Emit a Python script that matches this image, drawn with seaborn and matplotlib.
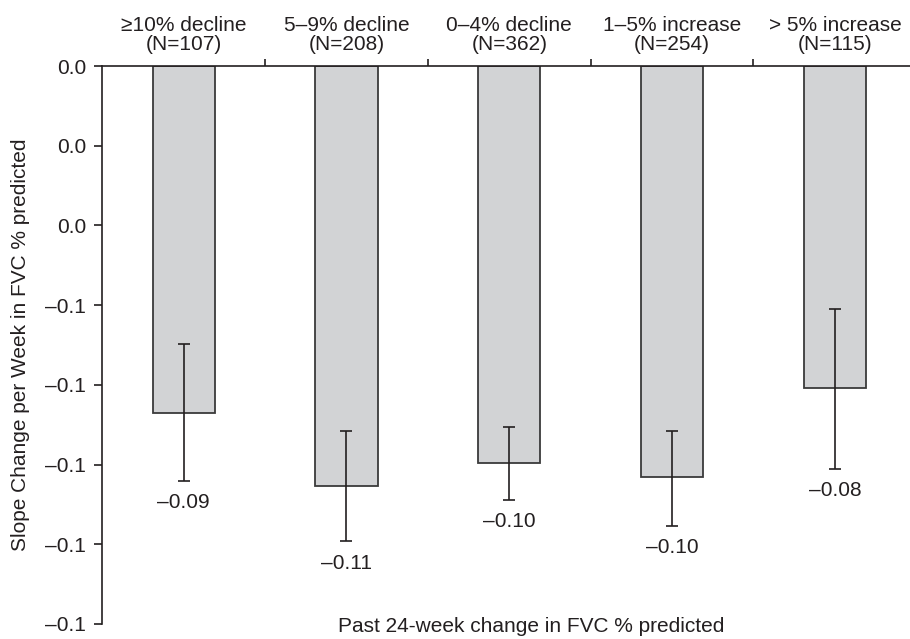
import numpy as np
import pandas as pd
import matplotlib
matplotlib.use('Agg')
import matplotlib.pyplot as plt
import seaborn as sns

# Data
groups = ['≥10% decline', '5–9% decline', '0–4% decline', '1–5% increase', '> 5% increase']
n_pts = [107, 208, 362, 254, 115]
slope = [-0.0871, -0.1053, -0.0997, -0.1030, -0.0809]
ci_low = [-0.1041, -0.1193, -0.1089, -0.1153, -0.1011]
ci_high = [-0.0698, -0.0917, -0.0907, -0.0917, -0.0610]
value_labels = ['–0.09', '–0.11', '–0.10', '–0.10', '–0.08']
ytick_vals = [0, -0.02, -0.04, -0.06, -0.08, -0.10, -0.12, -0.14]
ytick_labels = ['0.0', '0.0', '0.0', '–0.1', '–0.1', '–0.1', '–0.1', '–0.1']

sns.set_style('white')
plt.rcParams['font.family'] = ['Liberation Sans', 'DejaVu Sans']
ink = '#231f20'

df = pd.DataFrame({'group': [f'{g}\n(N={n})' for g, n in zip(groups, n_pts)],
                   'slope': slope})

fig = plt.figure(figsize=(9.1, 6.39), dpi=100)
ax = fig.add_axes([0.1124, 0.0235, 0.8945, 0.8732])

sns.barplot(data=df, x='group', y='slope', color='#d2d3d5', saturation=1,
            edgecolor='#3a3a3a', linewidth=1.3, width=0.383, errorbar=None, ax=ax)

x = np.arange(len(groups))
s = np.array(slope)
yerr = [s - np.array(ci_low), np.array(ci_high) - s]
ax.errorbar(x, s, yerr=yerr, fmt='none', ecolor=ink, elinewidth=1.2,
            capsize=4, capthick=1.2)

for xi, lo, lab in zip(x, ci_low, value_labels):
    ax.annotate(lab, (xi, lo), xytext=(0, -15.8), textcoords='offset points',
                ha='center', va='center', fontsize=15, color=ink)

ax.set_xlim(-0.5, len(groups) - 0.5)
ax.set_ylim(-0.14, 0)
ax.set_yticks(ytick_vals)
ax.set_yticklabels(ytick_labels)
ax.set_xlabel('')
ax.set_ylabel('Slope Change per Week in FVC % predicted', fontsize=15, color=ink, labelpad=11)

ax.xaxis.tick_top()
ax.set_xticks(x)
ax.set_xticklabels(df['group'], linespacing=1.0)
ax.set_xticks(x[:-1] + 0.5, minor=True)
ax.tick_params(axis='x', which='major', length=0, pad=9, labelsize=15, colors=ink)
ax.tick_params(axis='x', which='minor', length=5, width=1.2, direction='out', color=ink, top=True, bottom=False)
ax.tick_params(axis='y', length=5.5, width=1.2, direction='out', pad=6, labelsize=15, colors=ink, left=True)

for side in ['right', 'bottom']:
    ax.spines[side].set_visible(False)
for side in ['left', 'top']:
    ax.spines[side].set_color(ink)
    ax.spines[side].set_linewidth(1.2)

fig.text(531 / 910, 1 - 627 / 639, 'Past 24-week change in FVC % predicted',
         ha='center', va='center', fontsize=15, color=ink)

fig.savefig('out.png', dpi=100)
